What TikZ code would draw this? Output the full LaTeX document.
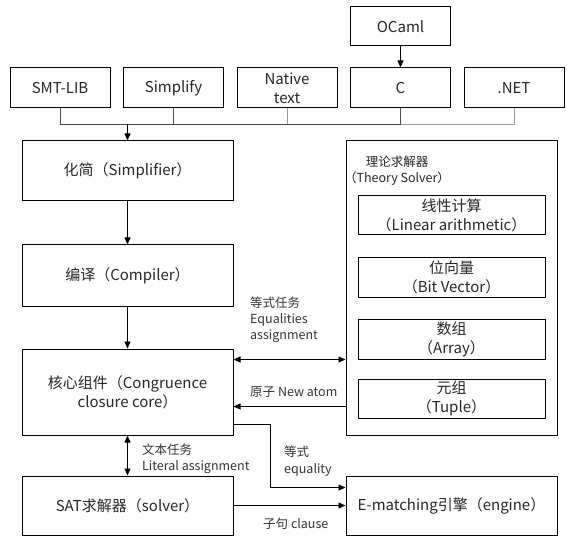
\documentclass[tikz,border=0pt]{standalone}
\usepackage{fontspec}
\setmainfont{Noto Sans CJK SC}
\usetikzlibrary{positioning}
\usetikzlibrary{arrows.meta}

\begin{document}
\begin{tikzpicture}[x=1pt, y=-1pt,
    caja/.style={draw, line width=1pt, text=black!85, align=center, inner sep=0pt, font=\fontsize{15}{19}\selectfont},
    entrada/.style={caja, minimum width=100pt, minimum height=40pt},
    etapa/.style={caja, minimum width=211pt},
    teoria/.style={caja, minimum width=187pt, minimum height=39pt},
    etiqueta/.style={text=black!80, align=left, inner sep=0pt, anchor=west, font=\fontsize{12.5}{16}\selectfont},
    flecha/.style={line width=0.8pt, -{Triangle[length=7pt,width=6pt]}},
    doble/.style={line width=0.8pt, {Triangle[length=7pt,width=6pt]}-{Triangle[length=7pt,width=6pt]}},
    bus/.style={line width=0.8pt}]
        % Marco del dibujo
        \useasboundingbox (0,0) rectangle (567,545);

        % Lenguajes de entrada
        \node[entrada, minimum height=39pt] (ocaml) at (400.5,26.5) {OCaml};
        \node[entrada] (smtlib) at (60,88) {SMT-LIB};
        \node[entrada] (simplify) at (173.5,88) {Simplify};
        \node[entrada] (native) at (287,88) {Native\\text};
        \node[entrada] (clang) at (400.5,88) {C};
        \node[entrada] (dotnet) at (514,88) {.NET};

        % Etapas del solver
        \node[etapa, minimum height=60pt] (simplifier) at (127.5,171) {化简（Simplifier）};
        \node[etapa, minimum height=61pt] (compiler) at (127.5,275.5) {编译（Compiler）};
        \node[etapa, minimum height=86pt] (core) at (127.5,392) {核心组件（Congruence\\closure core）};
        \node[etapa, minimum height=59pt] (sat) at (127.5,505.5) {SAT求解器（solver）};
        \node[etapa, minimum height=59pt] (ematching) at (451.5,505.5) {E-matching引擎（engine）};

        % Solver de teorias (caja grande con sus teorias)
        \node[etapa, minimum height=294pt] (theory) at (451.5,288) {};
        \node[text=black!85, align=center, inner sep=0pt, font=\fontsize{12.5}{16}\selectfont] (theorylabel) at (397,171) {理论求解器\\（Theory Solver）};
        \node[teoria] (linear) at (451.5,215.5) {线性计算\\（Linear arithmetic）};
        \node[teoria, minimum height=40pt] (bitvector) at (451.5,277) {位向量\\（Bit Vector）};
        \node[teoria, minimum height=40pt] (array) at (451.5,339) {数组\\（Array）};
        \node[teoria] (tuple) at (451.5,398.5) {元组\\（Tuple）};

        % Bus de entrada hacia el simplificador
        \coordinate (junction) at (127.5,124);
        \foreach \src in {native, dotnet} \draw[bus, black!40] (\src.south) |- (junction);
        \foreach \src in {smtlib, simplify, clang} \draw[bus, black!70] (\src.south) |- (junction);
        \draw[flecha] (junction) -- (simplifier.north);
        \draw[flecha] (ocaml) -- (clang);

        % Flujo principal
        \draw[flecha] (simplifier) -- (compiler);
        \draw[flecha] (compiler) -- (core);
        \draw[doble] (core) -- (sat);

        % Conexiones con el solver de teorias
        \draw[doble] (core.east |- array.south) -- (theory.west |- array.south);
        \draw[flecha] ([yshift=29pt]theory.south west) -- ([yshift=29pt]core.south east);

        % Conexiones con E-matching
        \draw[flecha] ([yshift=11pt]core.south east) -- ++(37,0) |- ([yshift=-12pt]ematching.north west);
        \draw[flecha] (sat.east) -- (ematching.west);

        % Etiquetas de las flechas
        \node[etiqueta] (eqtask) at (250,320) {等式任务\\Equalities\\assignment};
        \node[etiqueta] (newatom) at (250,392) {原子 New atom};
        \node[etiqueta] (literal) at (142,459) {文本任务\\Literal assignment};
        \node[etiqueta, font=\fontsize{12.5}{17}\selectfont] (equality) at (284,461.5) {等式\\equality};
        \node[etiqueta] (clause) at (263,524) {子句 clause};
\end{tikzpicture}
\end{document}
